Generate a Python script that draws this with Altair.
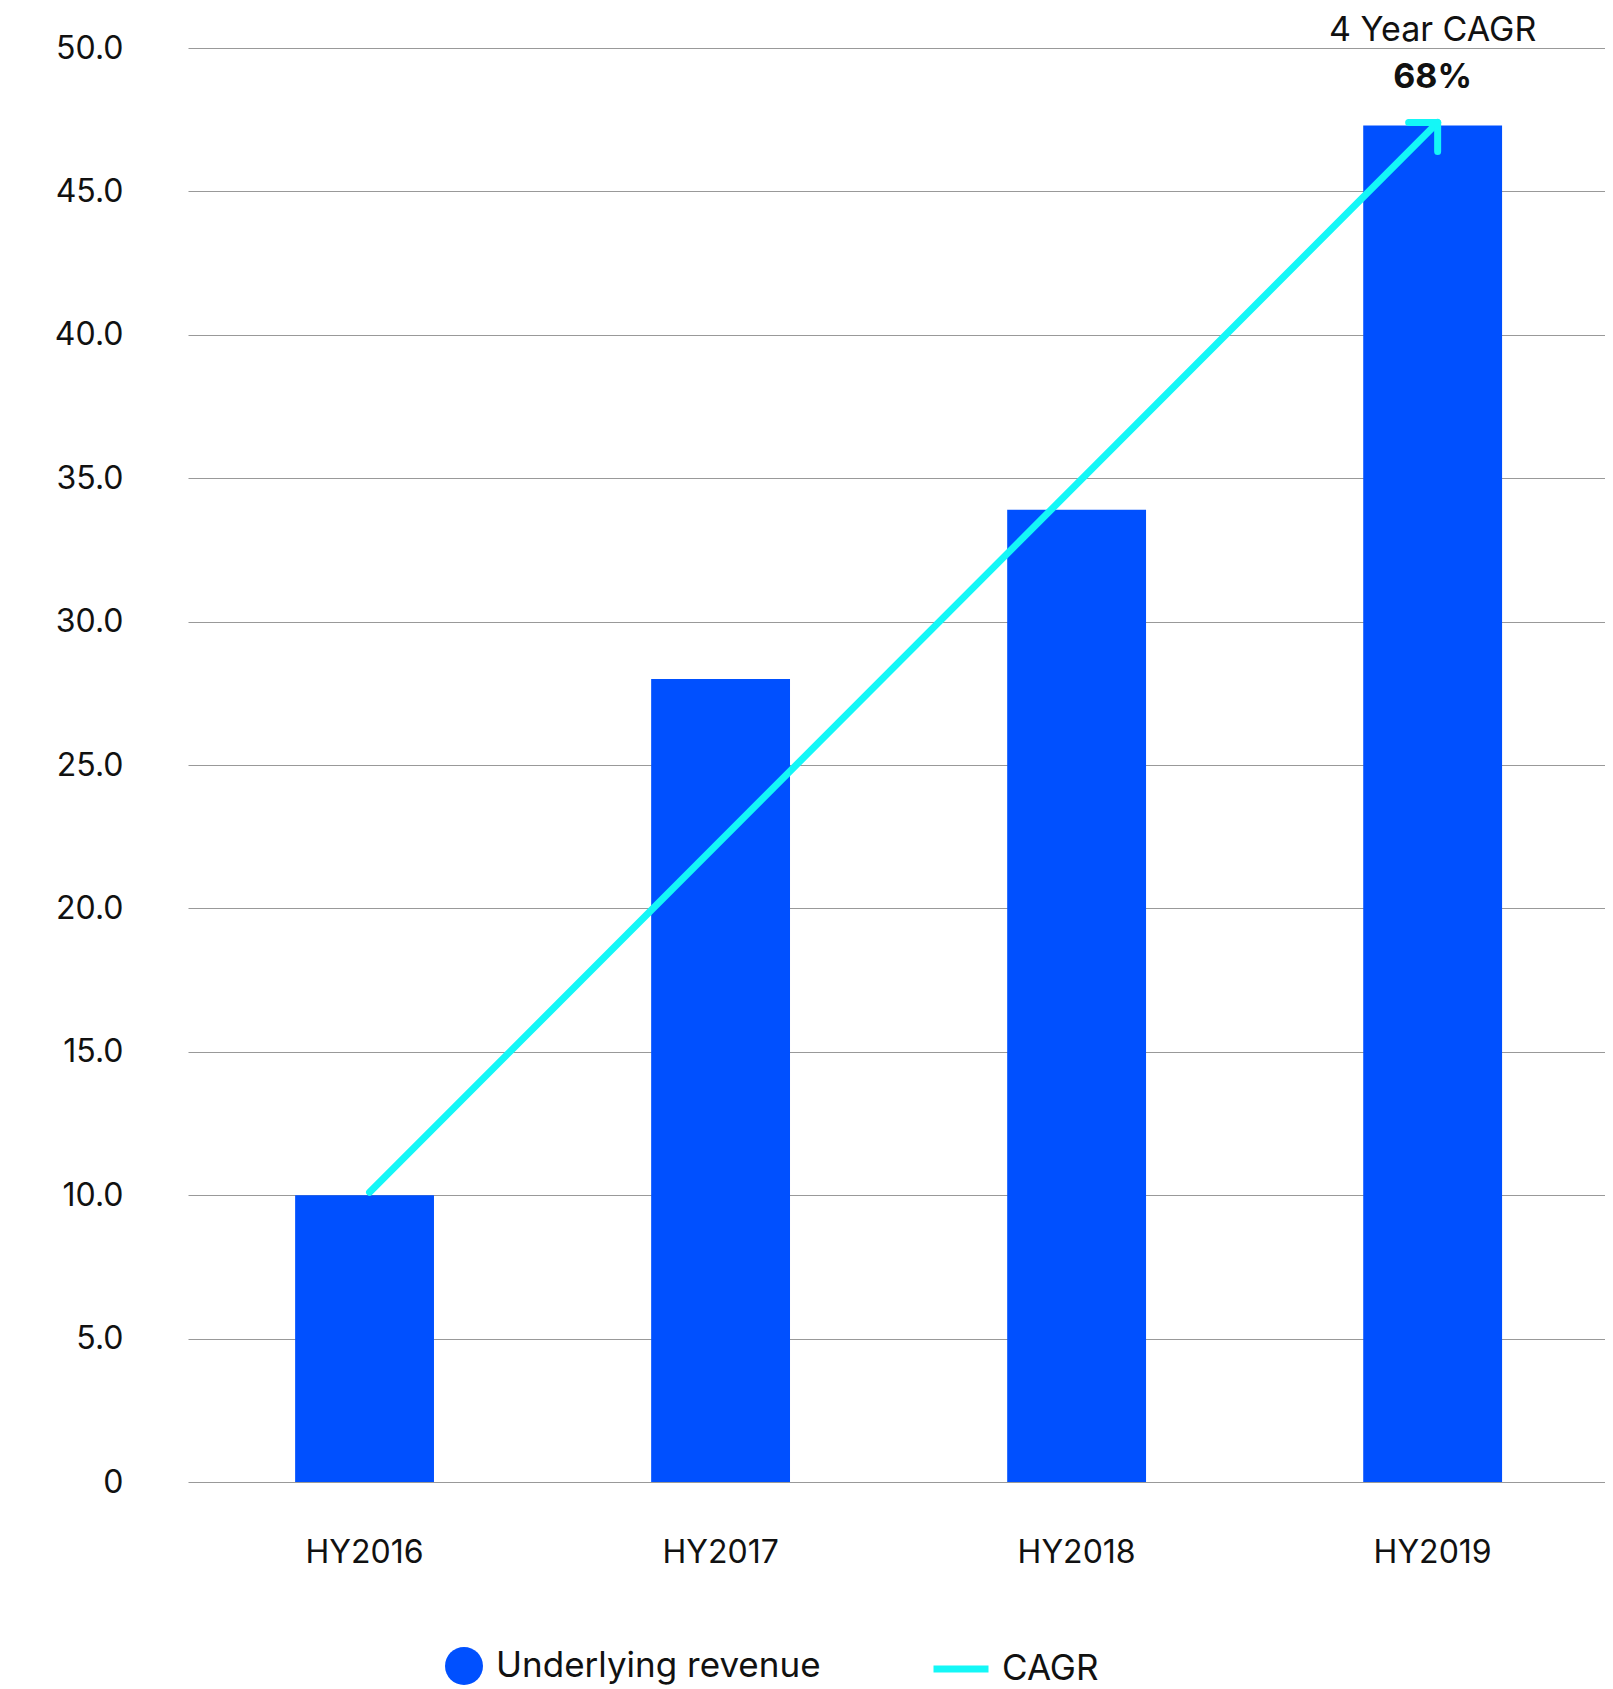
import altair as alt
import pandas as pd

# ---- data ----
categories = ["HY2016", "HY2017", "HY2018", "HY2019"]
revenue = [10.0, 28.0, 33.9, 47.3]
cagr_categories = ["HY2016", "HY2019"]
cagr_values = [10.1, 47.4]
y_ticks = [0, 5, 10, 15, 20, 25, 30, 35, 40, 45, 50]
annotation_title = "4 Year CAGR"
annotation_value = "68%"
annotation_anchor = 50

BLUE = "#0050FF"
CYAN = "#14F7F7"
FONT = "Inter"
TXT = "#111111"

bars_df = pd.DataFrame({"period": categories, "value": revenue,
                        "series": ["Underlying revenue"] * len(categories)})
line_df = pd.DataFrame({"period": cagr_categories, "value": cagr_values,
                        "series": ["CAGR"] * len(cagr_categories)})
tip_df = line_df.iloc[[-1]]
ann_df = pd.DataFrame({"period": [categories[-1]], "value": [annotation_anchor],
                       "title": [annotation_title], "pct": [annotation_value]})

x_enc = alt.X("period:N",
              scale=alt.Scale(domain=categories, paddingInner=0.61, paddingOuter=0.295,
                              align=0.51),
              axis=alt.Axis(title=None, labelAngle=0, domain=False, ticks=False,
                            labelPadding=55, labelFontSize=32, labelFont=FONT,
                            labelColor=TXT))
y_enc = alt.Y("value:Q",
              scale=alt.Scale(domain=[0, 50], nice=False, zero=True),
              axis=alt.Axis(title=None, values=y_ticks, domain=False, ticks=False,
                            grid=True, gridColor="#999999", gridWidth=1.2,
                            labelExpr="datum.value == 0 ? '0' : format(datum.value, '.1f')",
                            labelPadding=65, labelFontSize=32, labelFont=FONT,
                            labelColor=TXT))

bars = alt.Chart(bars_df).mark_bar(opacity=1).encode(
    x=x_enc, y=y_enc,
    color=alt.Color("series:N",
                    scale=alt.Scale(domain=["Underlying revenue"], range=[BLUE]),
                    legend=alt.Legend(title=None, orient="none", legendX=257, legendY=1599,
                                      symbolType="circle", symbolSize=1444,
                                      symbolStrokeWidth=0, symbolOpacity=1,
                                      labelFontSize=35, labelFont=FONT, labelColor=TXT,
                                      labelOffset=13, labelLimit=0, padding=0)),
)

line = alt.Chart(line_df).mark_line(strokeWidth=7, strokeCap="round", xOffset=5).encode(
    x=x_enc, y=y_enc,
    stroke=alt.Stroke("series:N",
                      scale=alt.Scale(domain=["CAGR"], range=[CYAN]),
                      legend=alt.Legend(title=None, orient="none", legendX=742, legendY=1590,
                                        symbolType="stroke", symbolSize=3025,
                                        symbolStrokeWidth=7,
                                        labelFontSize=35, labelFont=FONT, labelColor=TXT,
                                        labelOffset=10, labelLimit=0, padding=0)),
)

arrow = alt.Chart(tip_df).mark_point(
    shape="M -1 0 L 0 0 L 0 1", size=3364, filled=False, strokeWidth=7,
    strokeCap="round", strokeJoin="round", opacity=1, xOffset=5,
).encode(x=x_enc, y=y_enc, stroke=alt.value(CYAN))

title_txt = alt.Chart(ann_df).mark_text(
    fontSize=34, font=FONT, color=TXT, baseline="middle", dy=-17,
).encode(x=x_enc, y=y_enc, text="title:N")

pct_txt = alt.Chart(ann_df).mark_text(
    fontSize=34, font=FONT, fontWeight="bold", color=TXT, baseline="middle", dy=30,
).encode(x=x_enc, y=y_enc, text="pct:N")

chart = alt.layer(bars, line, arrow, title_txt, pct_txt).properties(
    width=1417, height=1434,
    autosize=alt.AutoSizeParams(type="none"),
    padding={"left": 180, "top": 40, "right": 0, "bottom": 207},
).configure_view(stroke=None).resolve_legend(color="independent", stroke="independent")

chart.save("out.html", embed_options={"renderer": "svg", "actions": False})
